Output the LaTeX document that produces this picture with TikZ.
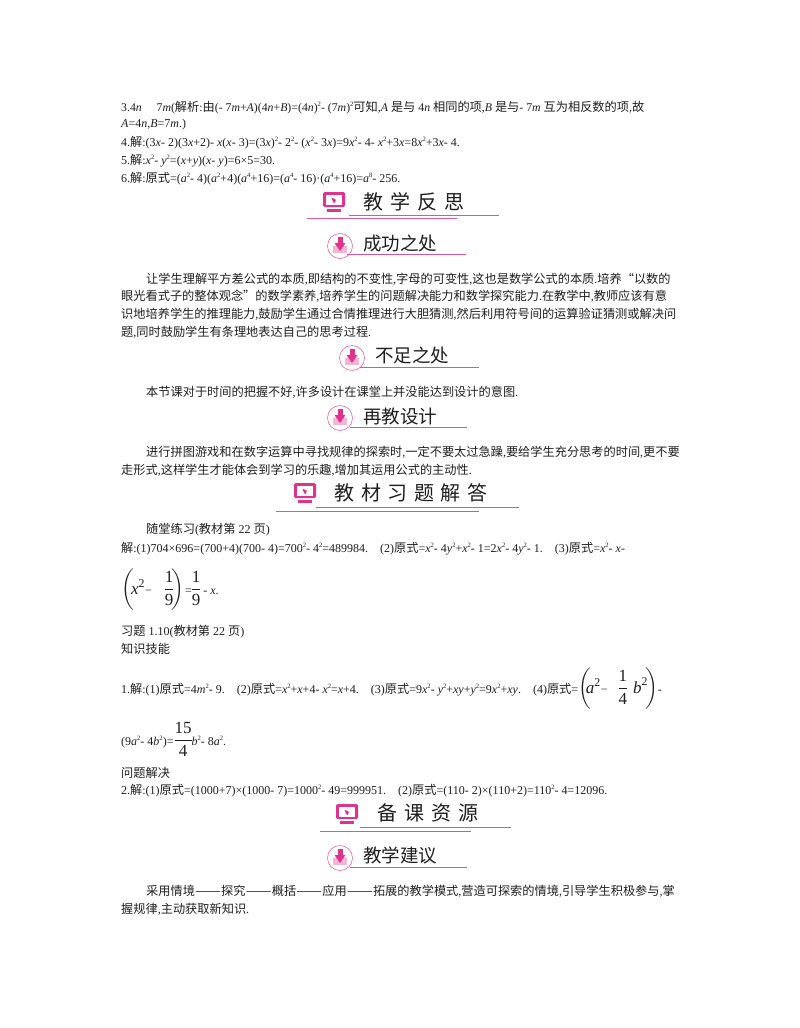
\documentclass[tikz,border=0pt]{standalone}
\usepackage{amsmath}
\usepackage{fontspec}
\setmainfont{Liberation Serif}
\newfontfamily\cjk{Noto Sans CJK SC}
\newcommand{\zh}[1]{{\cjk\fontsize{12.2}{14}\selectfont #1}}
\newcommand{\vr}[1]{\textit{#1}}
\newcommand{\up}[1]{\raisebox{4.4pt}{\fontsize{6.6}{7}\selectfont #1}}
\newcommand{\dashpair}{\makebox[26.2pt]{\scalebox{1.26}[1]{\zh{——}}}}
\newcommand{\bigsize}{\fontsize{17}{20}\selectfont\nulldelimiterspace=0pt}
\newcommand{\dash}{\text{\fontsize{12}{14}\selectfont −}}
\definecolor{rosered}{HTML}{E0338E}
\definecolor{rosepale}{HTML}{F5B5D3}
\definecolor{ruleplum}{HTML}{D4589E}
\tikzset{
  textline/.style={anchor=base west,inner sep=0,text=black!88,font=\fontsize{12}{14}\selectfont},
  bigtitle/.style={anchor=center,inner sep=0,text=black!88,font=\cjk\fontsize{20}{22}\selectfont},
  smalltitle/.style={anchor=base west,inner sep=0,text=black!88,font=\cjk\fontsize{18.5}{22}\selectfont},
  rule/.style={draw=ruleplum,line width=0.9pt},
}
% monitor mark, centred at #1,#2
\newcommand{\screenmark}[2]{
  \fill[rosered,rounded corners=1.5] (#1-11,#2-10) rectangle (#1+11,#2+5);
  \fill[white] (#1-8,#2-7) rectangle (#1+8,#2+2.5);
  \fill[rosered] (#1-2.5,#2-4.5) -- (#1+2.5,#2-2) -- (#1+1,#2-1) -- (#1+1,#2+1) -- (#1-1,#2) -- cycle;
  \fill[rosered] (#1-7,#2+7) rectangle (#1+7,#2+10);
}
% download mark, centred at #1,#2
\newcommand{\downmark}[2]{
  \draw[rosered!75,fill=white,line width=0.6pt] (#1,#2) circle (12.5);
  \fill[rosepale] (#1-7,#2) rectangle (#1+7,#2+6.5);
  \fill[rosered] (#1-2.5,#2-9) rectangle (#1+2.5,#2-3);
  \fill[rosered] (#1-5.5,#2-3) -- (#1+5.5,#2-3) -- (#1,#2+5) -- cycle;
}
\begin{document}
\begin{tikzpicture}[x=1pt,y=-1pt]
\useasboundingbox (0,0) rectangle (800,1028);
\fill[white] (0,0) rectangle (800,1028);
\node[textline,font=\fontsize{11.8}{14}\selectfont] (ans3a) at (121,111) {3.4\vr{n}\quad\ 7\vr{m}(\zh{解析}:\zh{由}(- 7\vr{m}+\vr{A})(4\vr{n}+\vr{B})=(4\vr{n})\up{2}- (7\vr{m})\up{2}\zh{可知},\vr{A} \zh{是与} 4\vr{n} \zh{相同的项},\vr{B} \zh{是与}- 7\vr{m} \zh{互为相反数的项},\zh{故}};
\node[textline] (ans3b) at (121,127) {\vr{A}=4\vr{n},\vr{B}=7\vr{m}.)};
\node[textline] (ans4) at (121,146) {4.\zh{解}:(3\vr{x}- 2)(3\vr{x}+2)- \vr{x}(\vr{x}- 3)=(3\vr{x})\up{2}- 2\up{2}- (\vr{x}\up{2}- 3\vr{x})=9\vr{x}\up{2}- 4- \vr{x}\up{2}+3\vr{x}=8\vr{x}\up{2}+3\vr{x}- 4.};
\node[textline] (ans5) at (121,164) {5.\zh{解}:\vr{x}\up{2}- \vr{y}\up{2}=(\vr{x}+\vr{y})(\vr{x}- \vr{y})=6×5=30.};
\node[textline] (ans6) at (121,182) {6.\zh{解}:\zh{原式}=(\vr{a}\up{2}- 4)(\vr{a}\up{2}+4)(\vr{a}\up{4}+16)=(\vr{a}\up{4}- 16)·(\vr{a}\up{4}+16)=\vr{a}\up{8}- 256.};
% reflection
\screenmark{334}{202}
\node[bigtitle] (fansi) at (414,202) {教\hspace{7pt}学\hspace{7pt}反\hspace{7pt}思};
\draw[rule] (349,215) -- (499,215);
\draw[rule] (307,218) -- (457,218);
\downmark{340}{246}
\node[smalltitle] (chenggong) at (363,250) {成功之处};
\draw[rule] (347,254) -- (466,254);
\node[textline] (para1a) at (146,283) {\zh{让学生理解平方差公式的本质},\zh{即结构的不变性},\zh{字母的可变性},\zh{这也是数学公式的本质}.\zh{培养“以数的}};
\node[textline] (para1b) at (121,300) {\zh{眼光看式子的整体观念”的数学素养},\zh{培养学生的问题解决能力和数学探究能力}.\zh{在教学中},\zh{教师应该有意}};
\node[textline] (para1c) at (121,318) {\zh{识地培养学生的推理能力},\zh{鼓励学生通过合情推理进行大胆猜测},\zh{然后利用符号间的运算验证猜测或解决问}};
\node[textline] (para1d) at (121,336) {\zh{题},\zh{同时鼓励学生有条理地表达自己的思考过程}.};
\downmark{352}{358}
\node[smalltitle] (buzu) at (375,362) {不足之处};
\draw[rule] (360,367) -- (479,367);
\node[textline] (para2) at (146,396) {\zh{本节课对于时间的把握不好},\zh{许多设计在课堂上并没能达到设计的意图}.};
\downmark{340}{418}
\node[smalltitle] (zaijiao) at (363,423) {再教设计};
\draw[rule] (350,427) -- (467,427);
\node[textline] (para3a) at (146,456) {\zh{进行拼图游戏和在数字运算中寻找规律的探索时},\zh{一定不要太过急躁},\zh{要给学生充分思考的时间},\zh{更不要}};
\node[textline] (para3b) at (121,474) {\zh{走形式},\zh{这样学生才能体会到学习的乐趣},\zh{增加其运用公式的主动性}.};
% textbook answers
\screenmark{305}{493}
\node[bigtitle] (jiaocai) at (411,493) {教\hspace{6.6pt}材\hspace{6.6pt}习\hspace{6.6pt}题\hspace{6.6pt}解\hspace{6.6pt}答};
\draw[rule] (316,507) -- (519,507);
\draw[rule] (276,511) -- (479,511);
\node[textline] (suitang) at (146,533) {\zh{随堂练习}(\zh{教材第} 22 \zh{页})};
\node[textline] (suitanga) at (121,552) {\zh{解}:(1)704×696=(700+4)(700- 4)=700\up{2}- 4\up{2}=489984.\quad (2)\zh{原式}=\vr{x}\up{2}- 4\vr{y}\up{2}+\vr{x}\up{2}- 1=2\vr{x}\up{2}- 4\vr{y}\up{2}- 1.\quad (3)\zh{原式}=\vr{x}\up{2}- \vr{x}-};
\node[textline] (suitangb) at (121,594) {{\bigsize$\left(\!\vr{x}^{\text{2}}\dash\hspace{13pt}\dfrac{\text{1}}{\text{9}}\hspace{-2pt}\right)$}\hspace{1pt}={\bigsize$\dfrac{\text{1}}{\text{9}}$}\hspace{3pt}- \vr{x}.};
\node[textline] (xiti) at (121,635) {\zh{习题} 1.10(\zh{教材第} 22 \zh{页})};
\node[textline] (zhishi) at (121,653) {\zh{知识技能}};
\node[textline] (xitia) at (121,693) {1.\zh{解}:(1)\zh{原式}=4\vr{m}\up{2}- 9.\quad (2)\zh{原式}=\vr{x}\up{2}+\vr{x}+4- \vr{x}\up{2}=\vr{x}+4.\quad (3)\zh{原式}=9\vr{x}\up{2}- \vr{y}\up{2}+\vr{x}\vr{y}+\vr{y}\up{2}=9\vr{x}\up{2}+\vr{x}\vr{y}.\quad (4)\zh{原式}={\bigsize$\left(\hspace{-5pt}\vr{a}^{\text{2}}\dash\hspace{11pt}\dfrac{\text{1}}{\text{4}}\hspace{6pt}\vr{b}^{\text{2}}\hspace{-3pt}\right)$}-};
\node[textline] (xitib) at (121,745) {(9\vr{a}\up{2}- 4\vr{b}\up{2})=\hspace{1pt}{\bigsize$\dfrac{\text{15}}{\text{4}}$}\vr{b}\up{2}- 8\vr{a}\up{2}.};
\node[textline] (wenti) at (121,777) {\zh{问题解决}};
\node[textline] (wentia) at (121,794) {2.\zh{解}:(1)\zh{原式}=(1000+7)×(1000- 7)=1000\up{2}- 49=999951.\quad (2)\zh{原式}=(110- 2)×(110+2)=110\up{2}- 4=12096.};
% resources
\screenmark{347}{814}
\node[bigtitle] (beike) at (428,813) {备\hspace{7pt}课\hspace{7pt}资\hspace{7pt}源};
\draw[rule] (360,827) -- (511,827);
\draw[rule] (320,831) -- (471,831);
\downmark{340}{858}
\node[smalltitle] (jianyi) at (363,862) {教学建议};
\draw[rule] (350,867) -- (467,867);
\node[textline] (para4a) at (146,895) {\zh{采用情境}\dashpair\zh{探究}\dashpair\zh{概括}\dashpair\zh{应用}\dashpair\zh{拓展的教学模式},\zh{营造可探索的情境},\zh{引导学生积极参与},\zh{掌}};
\node[textline] (para4b) at (121,913) {\zh{握规律},\zh{主动获取新知识}.};
\end{tikzpicture}
\end{document}
